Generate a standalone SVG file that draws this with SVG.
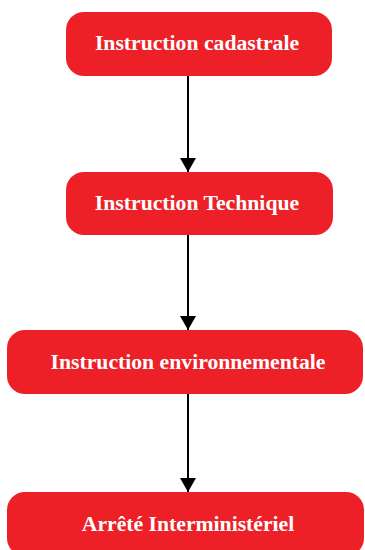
<svg xmlns="http://www.w3.org/2000/svg" width="365" height="550" viewBox="0 0 365 550">
  <style>
    .box { fill: #ED1F27; }
    .lbl { fill: #FFFFFF; font-family: "Liberation Serif", "Times New Roman", serif; font-weight: bold; font-size: 21.7px; text-anchor: middle; }
    .edge { stroke: #000000; stroke-width: 2; fill: none; }
  </style>
  <defs>
    <marker id="arrow" viewBox="0 0 14 16" refX="14" refY="8" markerWidth="14" markerHeight="16" markerUnits="userSpaceOnUse" orient="auto">
      <path d="M0,0 L14,8 L0,16 Z" fill="#000000"/>
    </marker>
  </defs>
  <rect width="365" height="550" fill="#FFFFFF"/>
  <g id="connectors">
    <line class="edge" x1="188" y1="76" x2="188" y2="172" marker-end="url(#arrow)"/>
    <line class="edge" x1="188" y1="235" x2="188" y2="330" marker-end="url(#arrow)"/>
    <line class="edge" x1="188" y1="394" x2="188" y2="492" marker-end="url(#arrow)"/>
  </g>
  <g id="node-cadastrale">
    <rect class="box" x="66" y="12" width="266" height="64" rx="18" ry="18"/>
    <text class="lbl" x="197" y="50">Instruction cadastrale</text>
  </g>
  <g id="node-technique">
    <rect class="box" x="66" y="172" width="267" height="63" rx="18" ry="18"/>
    <text class="lbl" x="197" y="210">Instruction Technique</text>
  </g>
  <g id="node-environnementale">
    <rect class="box" x="7" y="330" width="356" height="64" rx="18" ry="18"/>
    <text class="lbl" x="188" y="369">Instruction environnementale</text>
  </g>
  <g id="node-arrete">
    <rect class="box" x="7" y="492" width="357" height="64" rx="18" ry="18"/>
    <text class="lbl" x="188" y="531">Arrêté Interministériel</text>
  </g>
</svg>
